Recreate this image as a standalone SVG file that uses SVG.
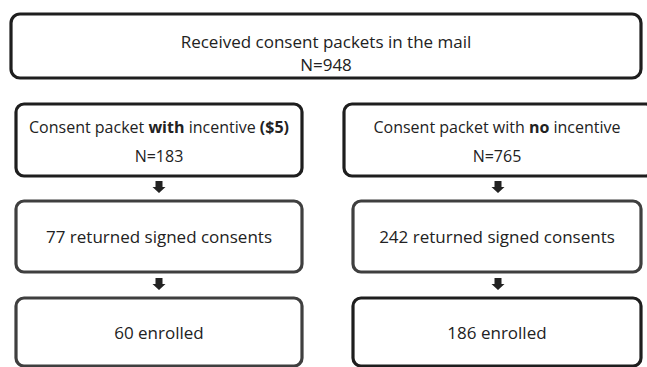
<svg xmlns="http://www.w3.org/2000/svg" width="647" height="367" viewBox="0 0 647 367">
  <style>
    .box { fill: #ffffff; stroke: #1e1e1e; stroke-width: 3.2; }
    .box.soft { stroke: #3f3f3f; }
    text { font-family: "Open Sans", "Noto Sans", sans-serif; font-size: 16px; fill: #222222; text-anchor: middle; }
    .big { font-size: 17px; }
    .b { font-weight: bold; }
    .arrow { fill: #222222; }
  </style>
  <rect width="647" height="367" fill="#ffffff"/>

  <g id="received">
    <rect class="box" x="11" y="14" width="630" height="64" rx="9"/>
    <text class="big" x="326" y="48">Received consent packets in the mail</text>
    <text class="big" x="326" y="71">N=948</text>
  </g>

  <g id="with-incentive">
    <rect class="box" x="16" y="104" width="286" height="72" rx="8"/>
    <text x="159" y="133">Consent packet <tspan class="b">with</tspan> incentive <tspan class="b">($5)</tspan></text>
    <text x="159" y="162">N=183</text>
  </g>

  <g id="no-incentive">
    <rect class="box" x="344" y="104" width="310" height="72" rx="8"/>
    <text x="497" y="133">Consent packet with <tspan class="b">no</tspan> incentive</text>
    <text x="497" y="162">N=765</text>
  </g>

  <g id="returned-with">
    <rect class="box soft" x="16" y="201" width="286" height="71" rx="8"/>
    <text class="big" x="159" y="243">77 returned signed consents</text>
  </g>

  <g id="returned-no">
    <rect class="box soft" x="353" y="201" width="288" height="71" rx="8"/>
    <text class="big" x="497" y="243">242 returned signed consents</text>
  </g>

  <g id="enrolled-with">
    <rect class="box soft" x="16" y="298" width="286" height="68" rx="8"/>
    <text class="big" x="159" y="339">60 enrolled</text>
  </g>

  <g id="enrolled-no">
    <rect class="box" x="353" y="298" width="288" height="68" rx="8"/>
    <text class="big" x="497" y="339">186 enrolled</text>
  </g>

  <g id="connectors">
    <defs>
      <path id="blockArrow" d="M-3.5 0 H3.5 V6 H6.5 L0 12 L-6.5 6 H-3.5 Z"/>
    </defs>
    <use href="#blockArrow" class="arrow" x="159" y="181"/>
    <use href="#blockArrow" class="arrow" x="159" y="278"/>
    <use href="#blockArrow" class="arrow" x="498" y="181"/>
    <use href="#blockArrow" class="arrow" x="498" y="278"/>
  </g>
</svg>
